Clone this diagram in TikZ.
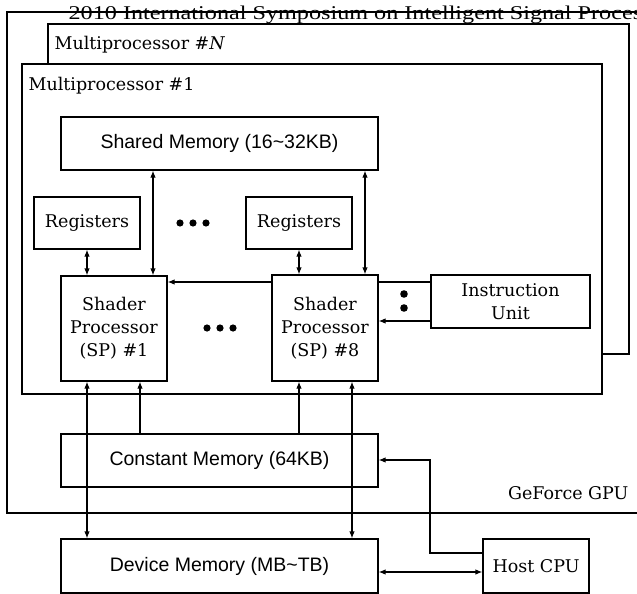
\documentclass[tikz,border=0pt]{standalone}
\usepackage{fontspec}
\newfontfamily\sansf{Liberation Sans}
\newfontfamily\timesf{Liberation Serif}
\newfontfamily\serf{DejaVu Serif}
\usetikzlibrary{arrows.meta}
\begin{document}
\begin{tikzpicture}[x=1pt,y=-1pt, line width=1.2pt,
  box/.style={draw, fill=white, line width=1.2pt, inner sep=0pt},
  ser/.style={font=\serf\fontsize{17.5}{23}\selectfont, align=center},
  san/.style={font=\sansf\fontsize{19.5}{23}\selectfont},
  lbl/.style={inner sep=0pt, font=\serf\fontsize{17.5}{23}\selectfont},
  arr/.style={-{Latex[length=7pt,width=5.5pt]}},
  barr/.style={{Latex[length=7pt,width=5.5pt]}-{Latex[length=7pt,width=5.5pt]}}]
\useasboundingbox (0,0) rectangle (637,594);
\clip (0,0) rectangle (637,594);
% GeForce GPU outline
\draw (650,12) -- (7,12) -- (7,513) -- (650,513);
\node[inner sep=0pt, anchor=base west] (hdr) at (68,20)
  {\timesf\fontsize{19.5}{22}\selectfont\scalebox{1.24}[1]{2010 International Symposium on Intelligent Signal Proces}};
% Multiprocessors
\draw[fill=white] (48,24) rectangle (629,354);
\draw[fill=white] (22,64) rectangle (602,394);
\node[lbl, anchor=base west] (mpn) at (54,50) {Multiprocessor \#\textit{N}};
\node[lbl, anchor=base west] (mp1) at (28,91) {Multiprocessor \#1};
\node[lbl, anchor=base east] (gpu) at (629,499) {GeForce GPU};
% boxes
\node[box, san, minimum width=317pt, minimum height=53pt] (sm) at (219.5,143.5) {Shared Memory (16\textasciitilde32KB)};
\node[box, ser, minimum width=106pt, minimum height=52pt] (reg1) at (87,223) {Registers};
\node[box, ser, minimum width=106pt, minimum height=52pt] (reg2) at (299,223) {Registers};
\node[box, ser, minimum width=106pt, minimum height=105pt] (sp1) at (114,328.5) {Shader\\Processor\\(SP) \#1};
\node[box, ser, minimum width=106pt, minimum height=106pt] (sp8) at (325,328) {Shader\\Processor\\(SP) \#8};
\node[box, ser, minimum width=159pt, minimum height=53pt] (iu) at (510.5,301.5) {Instruction\\Unit};
\node[box, san, minimum width=317pt, minimum height=53pt] (cm) at (219.5,460.5) {Constant Memory (64KB)};
\node[box, san, minimum width=317pt, minimum height=54pt] (dm) at (219.5,566) {Device Memory (MB\textasciitilde TB)};
\node[box, ser, minimum width=106pt, minimum height=54pt] (host) at (536,566) {Host CPU};
% dots
\foreach \x in {180,193,206} \fill (\x,223) circle (3.6);
\foreach \x in {207,220,233} \fill (\x,328) circle (3.6);
\foreach \y in {294,308} \fill (404,\y) circle (3.8);
% connectors
\draw[barr] (reg1.south) -- (reg1.south |- sp1.north);
\draw[barr] (reg2.south) -- (reg2.south |- sp8.north);
\draw[barr] (153,0 |- sm.south) -- (153,0 |- sp1.north);
\draw[barr] (365,0 |- sm.south) -- (365,0 |- sp8.north);
\draw[arr] (sp8.west |- 0,282) -- (sp1.east |- 0,282);
\draw (iu.west |- 0,282) -- (sp8.east |- 0,282);
\draw[arr] (iu.west |- 0,321) -- (sp8.east |- 0,321);
\draw[barr] (87,0 |- sp1.south) -- (87,0 |- dm.north);
\draw[arr] (140,0 |- cm.north) -- (140,0 |- sp1.south);
\draw[arr] (299,0 |- cm.north) -- (299,0 |- sp8.south);
\draw[barr] (352,0 |- sp8.south) -- (352,0 |- dm.north);
\draw[arr] (host.west |- 0,553) -- (430,553) -- (430,460) -- (cm.east |- 0,460);
\draw[barr] (dm.east |- 0,572) -- (host.west |- 0,572);
\end{tikzpicture}
\end{document}
